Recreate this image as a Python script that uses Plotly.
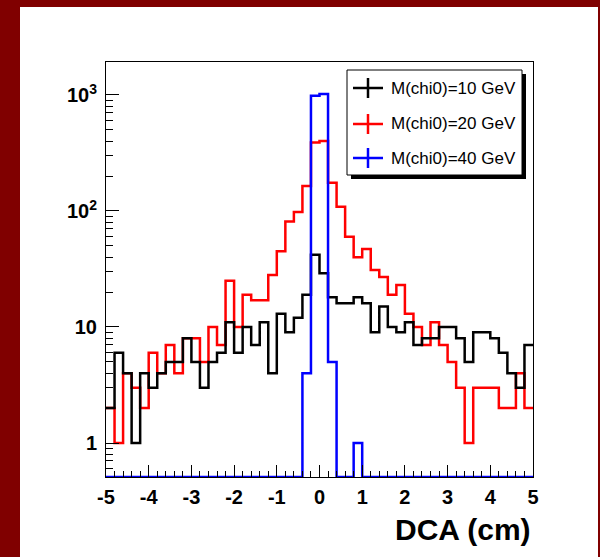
import plotly.graph_objects as go

# ---------------- data ----------------
x_min, x_max = -5.0, 5.0
bin_width = 0.2
bin_edges = [round(x_min + bin_width * i, 1) for i in range(51)]

black_counts = [2, 6, 4, 1, 4, 3, 4, 5, 5, 8,
                5, 3, 5, 6, 11, 6, 10, 7, 11, 4,
                13, 9, 12, 19, 42, 29, 18, 16, 16, 18,
                16, 9, 15, 10, 9, 11, 7, 8, 8, 10,
                10, 8, 5, 9, 9, 8, 6, 4, 3, 7]
red_counts = [2, 1, 4, 3, 2, 6, 4, 7, 4, 8,
              8, 5, 10, 7, 25, 10, 19, 17, 17, 28,
              45, 81, 98, 164, 390, 400, 175, 109, 60, 40,
              47, 31, 27, 19, 23, 13, 10, 7, 11, 7,
              5, 3, 1, 3, 3, 3, 2, 2, 4, 2]
blue_counts = [0, 0, 0, 0, 0, 0, 0, 0, 0, 0,
               0, 0, 0, 0, 0, 0, 0, 0, 0, 0,
               0, 0, 0, 4, 985, 1020, 5, 0, 0, 1,
               0, 0, 0, 0, 0, 0, 0, 0, 0, 0,
               0, 0, 0, 0, 0, 0, 0, 0, 0, 0]

series_names = ["M(chi0)=10 GeV", "M(chi0)=20 GeV", "M(chi0)=40 GeV"]
series_colors = ["#000000", "#ff0000", "#0000ff"]
x_tickvals = [-5, -4, -3, -2, -1, 0, 1, 2, 3, 4, 5]
x_ticktext = ["-5", "-4", "-3", "-2", "-1", "0", "1", "2", "3", "4", "5"]
y_tickvals = [1, 10, 100, 1000]
y_ticktext = ["1", "10", "10<sup>2</sup>", "10<sup>3</sup>"]
y_minor_vals = [m * 10 ** e for e in range(-1, 4) for m in range(2, 10)]
x_title = "DCA (cm)"

# ---------------- layout constants ----------------
W, H = 600, 557
L, R, T, B = 106, 533, 62, 477
Y_LOG_RANGE = [-0.293, 3.284]
floor_val = 10 ** Y_LOG_RANGE[0]


def px(xp):
    return (xp - L) / (R - L)


def py(yp):
    return (B - yp) / (B - T)


def step(counts):
    ys = [c if c > 0 else floor_val for c in counts]
    return bin_edges, ys + [ys[-1]]


fig = go.Figure()
order = [1, 0, 2]  # red under black, blue on top
all_counts = [black_counts, red_counts, blue_counts]
for i in order:
    xs, ys = step(all_counts[i])
    fig.add_trace(go.Scatter(
        x=xs, y=ys, mode="lines", line=dict(color=series_colors[i], width=2.5, shape="hv"),
        name=series_names[i], showlegend=False, hoverinfo="skip"))

shapes = []
dark = "#800000"
# outer dark red frame
shapes.append(dict(type="rect", xref="paper", yref="paper", x0=px(0), x1=px(20), y0=py(560), y1=py(0),
                   fillcolor=dark, line=dict(width=0)))
shapes.append(dict(type="rect", xref="paper", yref="paper", x0=px(0), x1=px(600), y0=py(7), y1=py(0),
                   fillcolor=dark, line=dict(width=0)))
shapes.append(dict(type="rect", xref="paper", yref="paper", x0=px(598), x1=px(601), y0=py(560), y1=py(0),
                   fillcolor=dark, line=dict(width=0)))
# legend shadow + box
shapes.append(dict(type="rect", xref="paper", yref="paper", x0=px(351), x1=px(526), y0=py(179), y1=py(74),
                   fillcolor="black", line=dict(width=0)))
shapes.append(dict(type="rect", xref="paper", yref="paper", x0=px(347), x1=px(522), y0=py(175), y1=py(70),
                   fillcolor="white", line=dict(color="black", width=1)))
annotations = []
leg_y = [88, 124, 158]
for i in range(3):
    cy = leg_y[i]
    shapes.append(dict(type="line", xref="paper", yref="paper", x0=px(353), x1=px(383), y0=py(cy), y1=py(cy),
                       line=dict(color=series_colors[i], width=2.5)))
    shapes.append(dict(type="line", xref="paper", yref="paper", x0=px(368), x1=px(368), y0=py(cy - 10),
                       y1=py(cy + 10), line=dict(color=series_colors[i], width=2.5)))
    annotations.append(dict(text=series_names[i], xref="paper", yref="paper", x=px(389), y=py(cy),
                            xanchor="left", yanchor="middle", showarrow=False,
                            font=dict(family="Liberation Sans", size=17, color="black")))

annotations.append(dict(text=x_title, xref="paper", yref="paper", x=1.0, y=py(529),
                        xanchor="right", yanchor="middle", showarrow=False,
                        font=dict(family="Liberation Sans", size=30, color="black", weight="bold")))

tickfont = dict(family="Liberation Sans", size=20, color="black", weight="bold")
fig.update_layout(
    width=W, height=H,
    margin=dict(l=L, r=W - R, t=T, b=H - B, pad=0),
    paper_bgcolor="white", plot_bgcolor="white",
    shapes=shapes, annotations=annotations,
    xaxis=dict(range=[x_min, x_max], tickmode="array", tickvals=x_tickvals, ticktext=x_ticktext,
               ticks="inside", ticklen=12, tickwidth=1, tickcolor="black",
               minor=dict(tickmode="linear", tick0=x_min, dtick=0.2, ticks="inside", ticklen=6,
                          tickwidth=1, tickcolor="black", showgrid=False),
               showline=True, linecolor="black", linewidth=1, mirror=True,
               showgrid=False, zeroline=False, tickfont=tickfont, ticklabelstandoff=2),
    yaxis=dict(type="log", range=Y_LOG_RANGE, tickmode="array", tickvals=y_tickvals,
               ticktext=y_ticktext, ticks="inside", ticklen=13, tickwidth=1, tickcolor="black",
               minor=dict(tickmode="array", tickvals=y_minor_vals, ticks="inside", ticklen=7,
                          tickwidth=1, tickcolor="black", showgrid=False),
               showline=True, linecolor="black", linewidth=1, mirror=True,
               showgrid=False, zeroline=False, tickfont=tickfont, ticklabelstandoff=4),
)

fig.write_html("out.html", config={"displayModeBar": False},
               post_script="document.body.style.margin='0';document.body.style.overflow='hidden';")
